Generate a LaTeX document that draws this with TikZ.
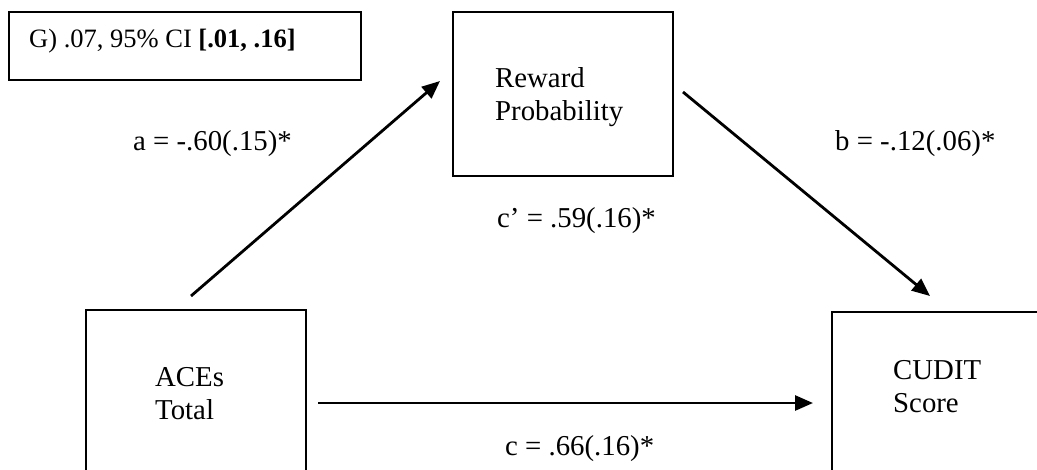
\documentclass[tikz,border=0pt]{standalone}
\usepackage{fontspec}
\setmainfont{Liberation Serif}
\usetikzlibrary{arrows.meta}
\tikzset{
  boxshape/.style={draw, line width=2.4pt, rectangle, inner sep=0pt},
  noteshape/.style={draw, line width=1.3pt, rectangle, inner sep=0pt},
  lbl/.style={anchor=base west, inner sep=0pt, font=\fontsize{28.8}{33}\selectfont, align=left},
  conn/.style={line width=2.8pt, -{Triangle[length=18pt,width=15pt]}}
}
\begin{document}
\begin{tikzpicture}[x=1pt,y=-1pt]
\useasboundingbox (0,0) rectangle (1037,469);
\clip (0,0) rectangle (1037,469);
\fill[white] (0,0) rectangle (1037,469);
% boxes
\node[noteshape, minimum width=352pt, minimum height=68pt] (g) at (185,46) {};
\node[boxshape, minimum width=220pt, minimum height=164pt] (rp) at (563,94) {};
\node[boxshape, minimum width=220pt, minimum height=250pt] (ace) at (196,435) {};
\node[boxshape, minimum width=268pt, minimum height=248pt] (cud) at (966,436) {};
% box texts (anchor at baseline of last line)
\node[lbl, font=\fontsize{26.5}{30}\selectfont] (gt) at (29,47) {G) .07, 95\% CI \textbf{[.01, .16]}};
\node[lbl] (rpt) at (495,120) {Reward\\Probability};
\node[lbl] (acet) at (155,419) {ACEs\\Total};
\node[lbl] (cudt) at (893,412) {CUDIT\\Score};
% connector ends
\coordinate (a0) at (191,296);
\coordinate (a1) at (440,81);
\coordinate (b0) at (683,92);
\coordinate (b1) at (930,296);
\coordinate (c0) at (318,403);
\coordinate (c1) at (813,403);
\draw[conn] (a0) -- (a1);
\draw[conn] (b0) -- (b1);
\draw[conn] (c0) -- (c1);
% path labels
\node[lbl] (la) at (133,150) {a = -.60(.15)*};
\node[lbl] (lb) at (835,150) {b = -.12(.06)*};
\node[lbl] (lcp) at (497,227) {c’ = .59(.16)*};
\node[lbl] (lc) at (505,455) {c = .66(.16)*};
\end{tikzpicture}
\end{document}
